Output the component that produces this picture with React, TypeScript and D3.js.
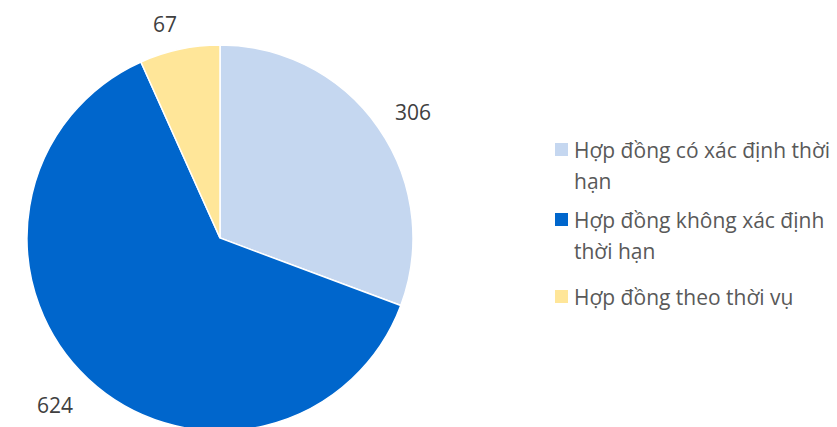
import React from "react";
import * as d3 from "d3";

const categories = ["Hợp đồng có xác định thời hạn", "Hợp đồng không xác định thời hạn", "Hợp đồng theo thời vụ"];
const values = [306, 624, 67];
const colors = ["#C5D7F0", "#0066CC", "#FFE699"];
const legendLines = [["Hợp đồng có xác định thời", "hạn"], ["Hợp đồng không xác định", "thời hạn"], ["Hợp đồng theo thời vụ"]];
const labelPos: [number, number][] = [[413, 112], [55, 405], [165, 24]];

export default function App() {
  const W = 837, H = 427;
  const cx = 220, cy = 238, r = 193;
  const pie = d3.pie<number>().sort(null).value((d) => d);
  const arcs = pie(values);
  const arc = d3.arc<d3.PieArcDatum<number>>().innerRadius(0).outerRadius(r);
  const font = "'Open Sans', 'Noto Sans', sans-serif";
  const legendRows = [150, 220, 297];
  return (
    <svg width={W} height={H} style={{ position: "absolute", left: 0, top: 0, background: "#fff" }}>
      <g transform={`translate(${cx},${cy})`}>
        {arcs.map((a, i) => (
          <path key={i} d={arc(a) || ""} fill={colors[i]} stroke="#fff" strokeWidth={1.5} />
        ))}
      </g>
      {values.map((v, i) => (
        <text key={i} x={labelPos[i][0]} y={labelPos[i][1]} textAnchor="middle" dominantBaseline="central" fontFamily={font} fontSize={21} fill="#404040">
          {v}
        </text>
      ))}
      {categories.map((c, i) => (
        <g key={c}>
          <rect x={555} y={legendRows[i] - 7} width={13} height={13} fill={colors[i]} />
          {legendLines[i].map((ln, j) => (
            <text key={j} x={574} y={legendRows[i] + j * 31} dominantBaseline="central" fontFamily={font} fontSize={21} fill="#595959">
              {ln}
            </text>
          ))}
        </g>
      ))}
    </svg>
  );
}
